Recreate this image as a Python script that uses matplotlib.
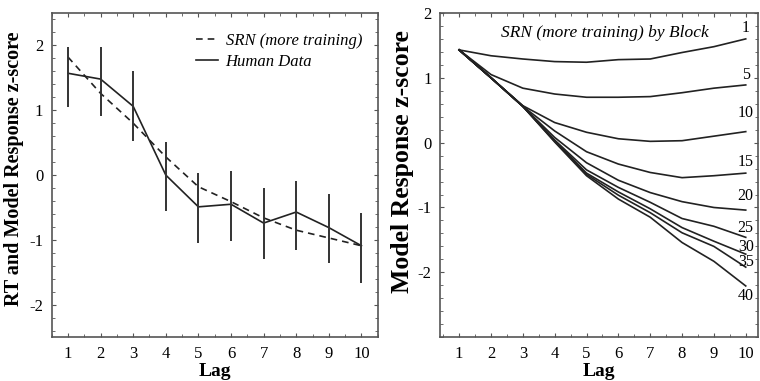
import numpy as np
import matplotlib
matplotlib.use("Agg")
import matplotlib.pyplot as plt
from matplotlib.ticker import MultipleLocator, FixedLocator

plt.rcParams['font.family'] = ['Liberation Serif', 'DejaVu Serif']
plt.rcParams['axes.unicode_minus'] = False

lags = np.arange(1, 11)

# left panel: model vs human
srn = [1.82, 1.26, 0.80, 0.28, -0.18, -0.41, -0.66, -0.85, -0.97, -1.09]
human = [1.57, 1.48, 1.06, 0.00, -0.49, -0.45, -0.74, -0.57, -0.81, -1.09]
human_hi = [1.98, 1.97, 1.60, 0.51, 0.03, 0.06, -0.20, -0.09, -0.29, -0.59]
human_lo = [1.05, 0.91, 0.53, -0.55, -1.04, -1.01, -1.29, -1.15, -1.36, -1.66]

# right panel: SRN by training block
blocks = [1, 5, 10, 15, 20, 25, 30, 35, 40]
block_curves = [
    [1.43, 1.34, 1.29, 1.25, 1.24, 1.28, 1.29, 1.39, 1.48, 1.60],
    [1.43, 1.05, 0.84, 0.75, 0.70, 0.70, 0.71, 0.77, 0.84, 0.89],
    [1.43, 1.00, 0.57, 0.31, 0.16, 0.06, 0.02, 0.03, 0.10, 0.17],
    [1.43, 1.00, 0.56, 0.18, -0.14, -0.33, -0.46, -0.54, -0.51, -0.47],
    [1.43, 1.00, 0.56, 0.08, -0.31, -0.58, -0.77, -0.91, -1.00, -1.04],
    [1.43, 1.00, 0.56, 0.04, -0.42, -0.69, -0.92, -1.17, -1.29, -1.46],
    [1.43, 1.00, 0.56, 0.03, -0.47, -0.76, -1.02, -1.31, -1.52, -1.72],
    [1.43, 1.00, 0.56, 0.02, -0.49, -0.81, -1.08, -1.39, -1.60, -1.92],
    [1.43, 1.00, 0.56, 0.01, -0.51, -0.87, -1.15, -1.54, -1.83, -2.21],
]
# label offset (points) from the end of each curve
label_dy = [7.5, 7.5, 13.5, 8, 10, 6.5, 5.5, 3.5, -7.5]

fig = plt.figure(figsize=(7.6, 3.81), dpi=100)
ax1 = fig.add_axes([0.068, 0.115, 0.429, 0.851])
ax2 = fig.add_axes([0.579, 0.115, 0.419, 0.851])

def style(ax):
    ax.xaxis.set_major_locator(MultipleLocator(1))
    ax.xaxis.set_minor_locator(MultipleLocator(0.5))
    ax.yaxis.set_major_locator(FixedLocator([-2, -1, 0, 1, 2]))
    ax.yaxis.set_minor_locator(MultipleLocator(0.2))
    ax.tick_params(which='both', direction='in', top=True, right=True,
                   labelsize=12, color='#555555', pad=6)
    ax.tick_params(which='major', length=3)
    ax.tick_params(which='minor', length=2)
    for s in ax.spines.values():
        s.set_color('#555555')
        s.set_linewidth(1.2)
    ax.set_xlabel('Lag', fontsize=14, fontweight='bold', labelpad=1)

ax1.plot(lags, srn, '--', color='#222222', lw=1.2, dashes=(4, 3),
         label='SRN (more training)')
ax1.plot(lags, human, '-', color='#222222', lw=1.2, label='Human Data')
ax1.vlines(lags, human_lo, human_hi, color='#333333', lw=1.4)
ax1.set_xlim(0.5, 10.5)
ax1.set_ylim(-2.5, 2.5)
style(ax1)
ax1.set_ylabel('RT and Model Response z-score', fontsize=14.5,
               fontweight='bold')
ax1.yaxis.set_label_coords(-0.086, 0.52)
ax1.legend(loc='upper right', bbox_to_anchor=(0.972, 0.96), frameon=False,
           prop={'style': 'italic', 'size': 12}, handlelength=1.3,
           handletextpad=0.45, borderaxespad=0, labelspacing=0.3)

for b, curve, dy in zip(blocks, block_curves, label_dy):
    ax2.plot(lags, curve, '-', color='#222222', lw=1.2)
    ax2.annotate(str(b), (lags[-1], curve[-1]), xytext=(0, dy),
                 textcoords='offset points', ha='center', va='center',
                 fontsize=11.5)
ax2.set_xlim(0.4, 10.4)
ax2.set_ylim(-3, 2)
style(ax2)
ax2.set_ylabel('Model Response z-score', fontsize=18.5, fontweight='bold')
ax2.yaxis.set_label_coords(-0.082, 0.543)
ax2.text(0.519, 0.938, 'SRN (more training) by Block', transform=ax2.transAxes,
         ha='center', va='center', fontsize=12.5, style='italic')

fig.savefig('out.png', dpi=100)
